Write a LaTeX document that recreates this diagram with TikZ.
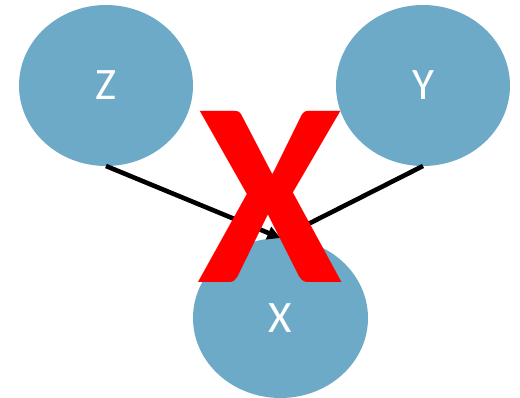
\documentclass[tikz,border=0pt]{standalone}
\usepackage{fontspec}
\newfontfamily\carl{Carlito}
\usetikzlibrary{shapes.geometric,arrows.meta}
\definecolor{nodeblue}{RGB}{108,170,200}
\begin{document}
\begin{tikzpicture}[x=1pt,y=-1pt,
  varnode/.style={ellipse,fill=nodeblue,draw=none,minimum width=174pt,minimum height=161pt,inner sep=0pt,outer sep=0pt,text=white,font=\carl\fontsize{45}{45}\selectfont},
  conn/.style={line width=4.6pt,black,-{Triangle[length=13pt,width=13pt]}}]
\useasboundingbox (0,0) rectangle (520,398);
\node[varnode] (Z) at (106,85.5) {Z};
\node[varnode] (Y) at (423,85.5) {Y};
\node[varnode,minimum width=175pt,minimum height=160pt] (X) at (280.5,318) {X};
\draw[conn] (Z.south) -- (X.north);
\draw[conn] (Y.south) -- (X.north);
\node[inner sep=0pt,text=red,font=\carl\bfseries\fontsize{264}{264}\selectfont] (cross) at (270,197) {X};
\end{tikzpicture}
\end{document}
